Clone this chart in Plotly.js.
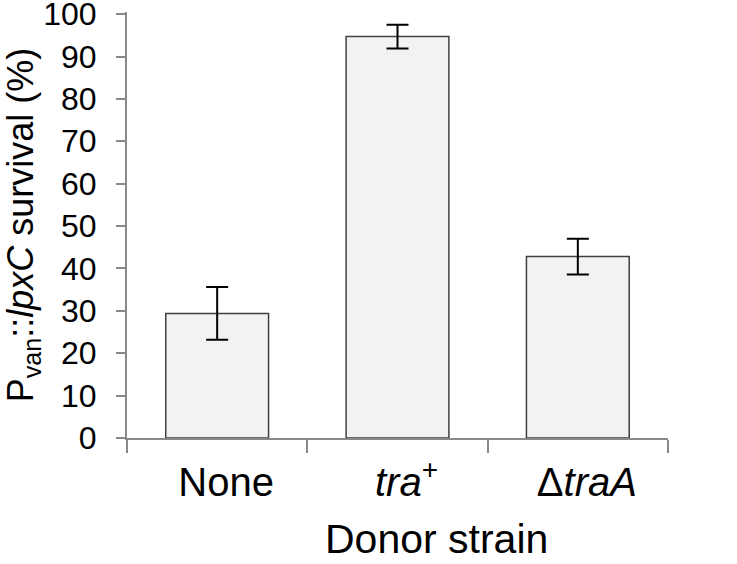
<!DOCTYPE html>
<html>
<head>
<meta charset="utf-8">
<script src="https://cdn.plot.ly/plotly-3.0.1.min.js"></script>
<style>html,body{margin:0;padding:0;background:#fff;}#chart{width:737px;height:564px;}</style>
</head>
<body>
<div id="chart"></div>
<script>
const categories = ["None", "<i>tra</i><sup>+</sup>", "Δ<i>traA</i>"];
const survival = [29.4, 94.7, 42.8];
const errors = [6.2, 2.8, 4.2];
const yTicks = [0, 10, 20, 30, 40, 50, 60, 70, 80, 90, 100];
const xTitle = "Donor strain";
const yTitle = "P<sub>van</sub>::<i>lpxC</i> survival (%)";

const FONT = "Liberation Sans, Arial, sans-serif";

const trace = {
  type: "bar",
  x: categories,
  y: survival,
  marker: {color: "#f2f2f2", line: {color: "#404040", width: 1.5}},
  error_y: {type: "data", array: errors, visible: true, color: "#000000", thickness: 2, width: 11},
  hoverinfo: "none"
};

const layout = {
  width: 737, height: 564,
  margin: {l: 127, r: 69, t: 12, b: 126, pad: 0},
  paper_bgcolor: "#ffffff", plot_bgcolor: "#ffffff",
  showlegend: false,
  bargap: 0.43,
  font: {family: FONT, color: "#000000"},
  xaxis: {
    type: "category",
    range: [-0.5, 2.5],
    showline: true, linecolor: "#898989", linewidth: 2,
    ticks: "outside", tickson: "boundaries", ticklen: 13, tickwidth: 2, tickcolor: "#898989",
    tickfont: {family: FONT, size: 40, color: "#000000"},
    ticklabelstandoff: 8,
    ticklabelshift: 9,
    showgrid: false, zeroline: false,
    automargin: false
  },
  yaxis: {
    range: [0, 100.5],
    tickvals: yTicks,
    ticktext: yTicks.map(String),
    showline: true, linecolor: "#898989", linewidth: 2,
    ticks: "outside", ticklen: 9, tickwidth: 2, tickcolor: "#898989",
    tickfont: {family: FONT, size: 32, color: "#000000"},
    ticklabelstandoff: 13,
    ticklabeloverflow: "allow",
    showgrid: false, zeroline: false,
    title: {text: yTitle, font: {family: FONT, size: 36, color: "#000000"}, standoff: 10},
    automargin: false
  },
  annotations: [{
    text: xTitle,
    xref: "paper", yref: "paper",
    x: 0.573, y: -0.296,
    xanchor: "center", yanchor: "bottom",
    showarrow: false,
    font: {family: FONT, size: 41, color: "#000000"}
  }]
};

Plotly.newPlot("chart", [trace], layout, {displayModeBar: false, staticPlot: true});
</script>
</body>
</html>
